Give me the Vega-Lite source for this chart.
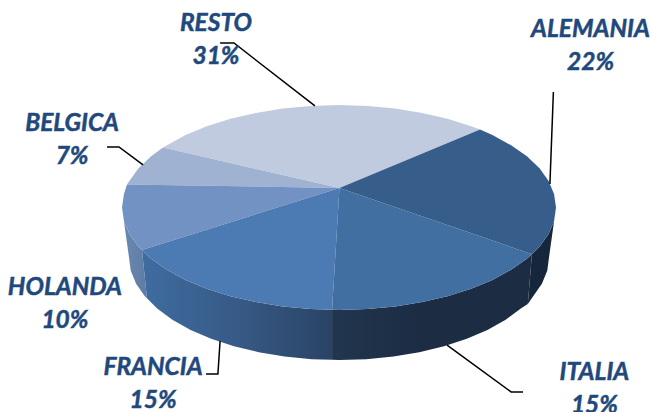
{"$schema":"https://vega.github.io/schema/vega-lite/v6.json","width":652,"height":412,"padding":0,"autosize":"none","background":"white","view":{"stroke":null},"projection":{"type":"identity","reflectY":true,"scale":2.17,"translate":[339,207.5]},"layer":[{"data":{"values":[{"type":"Feature","pais":"HOLANDA","geometry":{"type":"Polygon","coordinates":[[[-100,0],[-99.1,-6.2],[-96.6,-12.2],[-92.4,-18.1],[-90.8,-19.6],[-88.5,-41.8],[-89.4,-41],[-93.5,-35.1],[-96,-29],[-96.8,-22.8],[-100,0]]]}}]},"mark":{"type":"geoshape","stroke":null,"fill":{"gradient":"linear","x1":0,"y1":0,"x2":1,"y2":0,"stops":[{"offset":0,"color":"#6e89b0"},{"offset":1,"color":"#5c7ba6"}]}}},{"data":{"values":[{"type":"Feature","pais":"FRANCIA","geometry":{"type":"Polygon","coordinates":[[[-90.8,-19.6],[-86.6,-23.6],[-79.3,-28.7],[-70.7,-33.4],[-60.9,-37.4],[-50,-40.9],[-38.3,-43.6],[-25.9,-45.6],[-13.1,-46.8],[-3.2,-47.1],[-3.2,-70.2],[-12.6,-69.9],[-25.1,-68.7],[-37,-66.7],[-48.4,-63.9],[-58.9,-60.5],[-68.4,-56.4],[-76.8,-51.7],[-83.8,-46.55],[-88.5,-41.8],[-90.8,-19.6]]]}}]},"mark":{"type":"geoshape","stroke":null,"fill":{"gradient":"linear","x1":0,"y1":0,"x2":1,"y2":0,"stops":[{"offset":0,"color":"#3f6ca0"},{"offset":0.5,"color":"#375a86"},{"offset":1,"color":"#2a4365"}]}}},{"data":{"values":[{"type":"Feature","pais":"ITALIA","geometry":{"type":"Polygon","coordinates":[[[-3.2,-47.1],[0,-47.2],[13.1,-46.8],[25.9,-45.6],[38.3,-43.6],[50,-40.9],[60.9,-37.4],[70.7,-33.4],[79.3,-28.7],[86.6,-23.6],[88.9,-21.5],[87,-44.5],[83.8,-46.55],[76.8,-51.7],[68.4,-56.4],[58.9,-60.5],[48.4,-63.9],[37,-66.7],[25.1,-68.7],[12.6,-69.9],[0,-70.3],[-3.2,-70.2],[-3.2,-47.1]]]}}]},"mark":{"type":"geoshape","stroke":null,"fill":{"gradient":"linear","x1":0,"y1":0,"x2":1,"y2":0,"stops":[{"offset":0,"color":"#22364f"},{"offset":0.45,"color":"#1b2c43"},{"offset":1,"color":"#1b2c43"}]}}},{"data":{"values":[{"type":"Feature","pais":"ALEMANIA","geometry":{"type":"Polygon","coordinates":[[[88.9,-21.5],[92.4,-18.1],[96.6,-12.2],[99.1,-6.2],[100,0],[96.8,-22.8],[96,-29],[93.5,-35.1],[89.4,-41],[87,-44.5],[88.9,-21.5]]]}}]},"mark":{"type":"geoshape","stroke":null,"fill":"#17273b"}},{"data":{"values":[{"type":"Feature","pais":"RESTO","cuota":0.31,"geometry":{"type":"Polygon","coordinates":[[[0.2,9],[65,35.9],[60.9,37.4],[50,40.9],[38.3,43.6],[25.9,45.6],[13.1,46.8],[0,47.2],[-13.1,46.8],[-25.9,45.6],[-38.3,43.6],[-50,40.9],[-60.9,37.4],[-70.7,33.4],[-79.3,28.7],[-81.1,27.6],[0.2,9]]]}},{"type":"Feature","pais":"BELGICA","cuota":0.07,"geometry":{"type":"Polygon","coordinates":[[[0.2,9],[-81.1,27.6],[-86.6,23.6],[-92.4,18.1],[-96.6,12.2],[-97.7,10.6],[0.2,9]]]}},{"type":"Feature","pais":"HOLANDA","cuota":0.10,"geometry":{"type":"Polygon","coordinates":[[[0.2,9],[-97.7,10.6],[-99.1,6.2],[-100,0],[-99.1,-6.2],[-96.6,-12.2],[-92.4,-18.1],[-90.8,-19.6],[0.2,9]]]}},{"type":"Feature","pais":"FRANCIA","cuota":0.15,"geometry":{"type":"Polygon","coordinates":[[[0.2,9],[-90.8,-19.6],[-86.6,-23.6],[-79.3,-28.7],[-70.7,-33.4],[-60.9,-37.4],[-50,-40.9],[-38.3,-43.6],[-25.9,-45.6],[-13.1,-46.8],[-3.2,-47.1],[0.2,9]]]}},{"type":"Feature","pais":"ITALIA","cuota":0.15,"geometry":{"type":"Polygon","coordinates":[[[0.2,9],[-3.2,-47.1],[0,-47.2],[13.1,-46.8],[25.9,-45.6],[38.3,-43.6],[50,-40.9],[60.9,-37.4],[70.7,-33.4],[79.3,-28.7],[86.6,-23.6],[88.9,-21.5],[0.2,9]]]}},{"type":"Feature","pais":"ALEMANIA","cuota":0.22,"geometry":{"type":"Polygon","coordinates":[[[0.2,9],[88.9,-21.5],[92.4,-18.1],[96.6,-12.2],[99.1,-6.2],[100,0],[99.1,6.2],[96.6,12.2],[92.4,18.1],[86.6,23.6],[79.3,28.7],[70.7,33.4],[65,35.9],[0.2,9]]]}}]},"mark":{"type":"geoshape","stroke":null},"encoding":{"color":{"field":"pais","type":"nominal","legend":null,"scale":{"domain":["RESTO","BELGICA","HOLANDA","FRANCIA","ITALIA","ALEMANIA"],"range":["#c0cbdf","#a0b2d2","#7192c3","#4c7ab3","#426fa2","#375d8a"]}}}},{"data":{"values":[{"type":"Feature","pais":"RESTO","geometry":{"type":"LineString","coordinates":[[-54.8,75.8],[-48.4,75.8],[-11.1,46.8]]}},{"type":"Feature","pais":"BELGICA","geometry":{"type":"LineString","coordinates":[[-106.9,27.9],[-101.4,27.9],[-90.3,19.6]]}},{"type":"Feature","pais":"ALEMANIA","geometry":{"type":"LineString","coordinates":[[98.8,53.2],[97.2,10.8]]}},{"type":"Feature","pais":"FRANCIA","geometry":{"type":"LineString","coordinates":[[-61.3,-76.7],[-55.8,-76.7],[-54.8,-61.5]]}},{"type":"Feature","pais":"ITALIA","geometry":{"type":"LineString","coordinates":[[49.8,-63.4],[79.3,-85],[84.8,-85]]}}]},"mark":{"type":"geoshape","filled":false,"stroke":"#000000","strokeWidth":1.5}},{"data":{"name":"etiquetas","values":[{"pais":"RESTO","cuota":0.31,"lon":-56.7,"lat":81.3},{"pais":"ALEMANIA","cuota":0.22,"lon":115.9,"lat":78.5},{"pais":"BELGICA","cuota":0.07,"lon":-123,"lat":35.3},{"pais":"HOLANDA","cuota":0.10,"lon":-126.3,"lat":-40.3},{"pais":"FRANCIA","cuota":0.15,"lon":-85.7,"lat":-77.2},{"pais":"ITALIA","cuota":0.15,"lon":117.7,"lat":-79.5}]},"mark":{"type":"text","font":"Lato","fontSize":24.5,"fontWeight":"bold","fontStyle":"italic","color":"#1f497d","stroke":"#1f497d","strokeWidth":0.5,"align":"center","baseline":"alphabetic"},"encoding":{"longitude":{"field":"lon","type":"quantitative"},"latitude":{"field":"lat","type":"quantitative"},"text":{"field":"pais","type":"nominal"}}},{"data":{"name":"etiquetas"},"mark":{"type":"text","font":"Lato","fontSize":24.5,"fontWeight":"bold","fontStyle":"italic","color":"#1f497d","stroke":"#1f497d","strokeWidth":0.5,"align":"center","baseline":"alphabetic","dy":33},"encoding":{"longitude":{"field":"lon","type":"quantitative"},"latitude":{"field":"lat","type":"quantitative"},"text":{"field":"cuota","type":"quantitative","format":".0%"}}}]}
